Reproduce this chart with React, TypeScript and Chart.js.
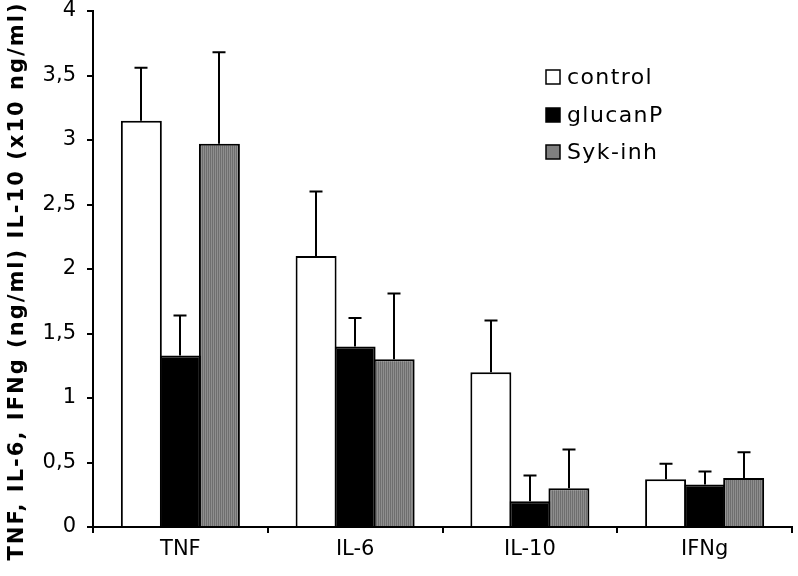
import React, { useEffect, useRef } from "react";
import { Chart, registerables } from "chart.js";

Chart.register(...registerables);

const categories = ["TNF", "IL-6", "IL-10", "IFNg"];
const seriesNames = ["control", "glucanP", "Syk-inh"];
const controlValues = [3.15, 2.1, 1.2, 0.37];
const glucanPValues = [1.33, 1.4, 0.2, 0.33];
const sykValues = [2.97, 1.3, 0.3, 0.38];
const controlErrors = [0.41, 0.5, 0.4, 0.12];
const glucanPErrors = [0.31, 0.22, 0.2, 0.1];
const sykErrors = [0.71, 0.51, 0.3, 0.2];
const yTicks = [0, 0.5, 1, 1.5, 2, 2.5, 3, 3.5, 4];
const yTitle = "TNF, IL-6, IFNg (ng/ml) IL-10 (x10 ng/ml)";

const FONT = "'DejaVu Sans', Verdana, sans-serif";

function makeStripePattern(): CanvasPattern | string {
  const c = document.createElement("canvas");
  c.width = 2;
  c.height = 2;
  const g = c.getContext("2d");
  if (!g) return "#808080";
  g.fillStyle = "#6e6e6e";
  g.fillRect(0, 0, 1, 2);
  g.fillStyle = "#8e8e8e";
  g.fillRect(1, 0, 1, 2);
  const ctx = document.createElement("canvas").getContext("2d");
  const p = ctx ? ctx.createPattern(c, "repeat") : null;
  return p || "#808080";
}

export default function App() {
  const ref = useRef<HTMLCanvasElement | null>(null);

  useEffect(() => {
    document.body.style.margin = "0";
    const canvas = ref.current;
    if (!canvas) return;
    const stripes = makeStripePattern();
    const fills: any[] = ["#ffffff", "#000000", stripes];
    const legendFills: any[] = ["#ffffff", "#000000", "#808080"];
    const errors = [controlErrors, glucanPErrors, sykErrors];

    const errorBars = {
      id: "errorBars",
      afterDatasetsDraw(chart: any) {
        const ctx = chart.ctx;
        const y = chart.scales.y;
        ctx.save();
        ctx.strokeStyle = "#000";
        ctx.lineWidth = 2;
        chart.data.datasets.forEach((ds: any, i: number) => {
          const meta = chart.getDatasetMeta(i);
          meta.data.forEach((el: any, j: number) => {
            const v = ds.data[j];
            const top = y.getPixelForValue(v + errors[i][j]);
            const x = Math.round(el.x);
            ctx.beginPath();
            ctx.moveTo(x, el.y);
            ctx.lineTo(x, top);
            ctx.moveTo(x - 6.5, top);
            ctx.lineTo(x + 6.5, top);
            ctx.stroke();
          });
        });
        ctx.restore();
      },
    };

    const extras = {
      id: "extras",
      afterDraw(chart: any) {
        const ctx = chart.ctx;
        ctx.save();
        // y axis title
        ctx.font = `bold 21px ${FONT}`;
        ctx.fillStyle = "#000";
        const w = ctx.measureText(yTitle).width;
        const target = 557;
        const spacing = Math.max(0, (target - w) / (yTitle.length - 1));
        (ctx as any).letterSpacing = `${spacing}px`;
        ctx.translate(18, 282);
        ctx.rotate(-Math.PI / 2);
        ctx.textAlign = "left";
        ctx.textBaseline = "middle";
        ctx.fillText(yTitle, -target / 2, 0);
        ctx.restore();

        // legend
        ctx.save();
        ctx.font = `22px ${FONT}`;
        (ctx as any).letterSpacing = "1.4px";
        ctx.textBaseline = "middle";
        ctx.textAlign = "left";
        const centers = [77, 115, 152];
        seriesNames.forEach((name, i) => {
          const cy = centers[i];
          ctx.fillStyle = legendFills[i];
          ctx.fillRect(546, cy - 7, 14, 14);
          ctx.strokeStyle = "#000";
          ctx.lineWidth = 1.5;
          ctx.strokeRect(546, cy - 7, 14, 14);
          ctx.fillStyle = "#000";
          ctx.fillText(name, 567, cy + 1);
        });
        ctx.restore();
      },
    };

    const chart = new Chart(canvas, {
      type: "bar",
      data: {
        labels: categories,
        datasets: [controlValues, glucanPValues, sykValues].map((d, i) => ({
          label: seriesNames[i],
          data: d,
          backgroundColor: fills[i],
          borderColor: "#000",
          borderWidth: 2,
          borderSkipped: "bottom",
          categoryPercentage: 0.67,
          barPercentage: 1.05,
        })),
      },
      options: {
        responsive: false,
        animation: false,
        devicePixelRatio: 1,
        layout: { padding: { left: 0, top: 11, right: 6, bottom: 0 } },
        plugins: {
          legend: { display: false },
          tooltip: { enabled: false },
          title: { display: false },
        },
        scales: {
          x: {
            grid: {
              display: true,
              offset: true,
              drawOnChartArea: false,
              drawTicks: true,
              tickLength: 6,
              color: "#000",
              lineWidth: 2,
            },
            border: { display: true, color: "#000", width: 2 },
            ticks: {
              color: "#000",
              font: { family: FONT, size: 21 },
              padding: 4,
              maxRotation: 0,
            },
            afterFit(scale: any) {
              scale.height = 49;
              scale.paddingLeft = 0;
              scale.paddingRight = 0;
            },
          },
          y: {
            min: 0,
            max: 4,
            afterBuildTicks(scale: any) {
              scale.ticks = yTicks.map((v) => ({ value: v }));
            },
            grid: {
              display: true,
              drawOnChartArea: false,
              drawTicks: true,
              tickLength: 6,
              color: "#000",
              lineWidth: 2,
            },
            border: { display: true, color: "#000", width: 2 },
            ticks: {
              color: "#000",
              font: { family: FONT, size: 21 },
              padding: 11,
              callback: (v: any) => String(v).replace(".", ","),
            },
            afterFit(scale: any) {
              scale.width = 93;
              scale.paddingTop = 0;
              scale.paddingBottom = 0;
            },
          },
        },
      },
      plugins: [errorBars, extras],
    });
    return () => chart.destroy();
  }, []);

  return (
    <div style={{ width: 798, height: 576, background: "#fff" }}>
      <canvas ref={ref} width={798} height={576} />
    </div>
  );
}
